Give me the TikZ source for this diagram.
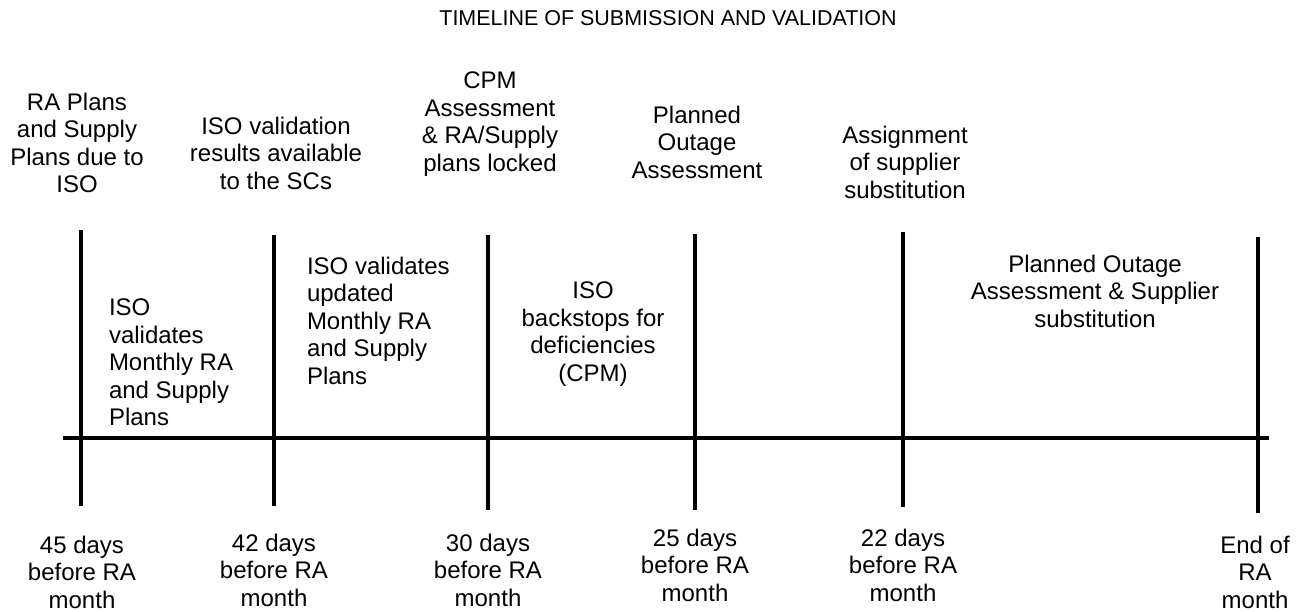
\documentclass[tikz,border=0pt]{standalone}
\usepackage{fontspec}
\setmainfont{Liberation Sans}
\begin{document}
\begin{tikzpicture}[x=0.75pt,y=-0.75pt,
  lbl/.style={inner sep=0pt,outer sep=0pt,align=center,anchor=north,font=\fontsize{18}{20.6}\selectfont},
  lbll/.style={lbl,align=left,anchor=north west},
  ttl/.style={inner sep=0pt,anchor=north,font=\fontsize{16.1}{18}\selectfont},
  tick/.style={line width=3pt},
  axisline/.style={line width=3.2pt}]
\useasboundingbox (0,0) rectangle (1305,611);
\node[ttl] (title) at (668,10) {TIMELINE OF SUBMISSION AND VALIDATION};
% axis
\coordinate (ax0) at (63,438);
\coordinate (ax1) at (1269,438);
\draw[axisline] (ax0) -- (ax1);
% ticks
\coordinate (t1a) at (81,230);  \coordinate (t1b) at (81,506);
\coordinate (t2a) at (274,235); \coordinate (t2b) at (274,506);
\coordinate (t3a) at (488,235); \coordinate (t3b) at (488,510);
\coordinate (t4a) at (695,234); \coordinate (t4b) at (695,510);
\coordinate (t5a) at (903,232); \coordinate (t5b) at (903,507);
\coordinate (t6a) at (1258,237); \coordinate (t6b) at (1258,513);
\draw[tick] (t1a) -- (t1b);
\draw[tick] (t2a) -- (t2b);
\draw[tick] (t3a) -- (t3b);
\draw[tick] (t4a) -- (t4b);
\draw[tick] (t5a) -- (t5b);
\draw[tick] (t6a) -- (t6b);
% top labels
\node[lbl] (a1) at (77,93) {RA Plans\\and Supply\\Plans due to\\ISO};
\node[lbl] (a2) at (276,117) {ISO validation\\results available\\to the SCs};
\node[lbl] (a3) at (490,72) {CPM\\Assessment\\\& RA/Supply\\plans locked};
\node[lbl] (a4) at (697,106) {Planned\\Outage\\Assessment};
\node[lbl] (a5) at (905,126) {Assignment\\of supplier\\substitution};
% middle labels
\node[lbll] (b1) at (109,299) {ISO\\validates\\Monthly RA\\and Supply\\Plans};
\node[lbll] (b2) at (307,257) {ISO validates\\updated\\Monthly RA\\and Supply\\Plans};
\node[lbl] (b3) at (593,282) {ISO\\backstops for\\deficiencies\\(CPM)};
\node[lbl] (b4) at (1095,255) {Planned Outage\\Assessment \& Supplier\\substitution};
% bottom labels
\node[lbl] (c1) at (82,536) {45 days\\before RA\\month};
\node[lbl] (c2) at (274,534) {42 days\\before RA\\month};
\node[lbl] (c3) at (488,534) {30 days\\before RA\\month};
\node[lbl] (c4) at (695,529) {25 days\\before RA\\month};
\node[lbl] (c5) at (903,529) {22 days\\before RA\\month};
\node[lbl] (c6) at (1255,536) {End of\\RA\\month};
\end{tikzpicture}
\end{document}
